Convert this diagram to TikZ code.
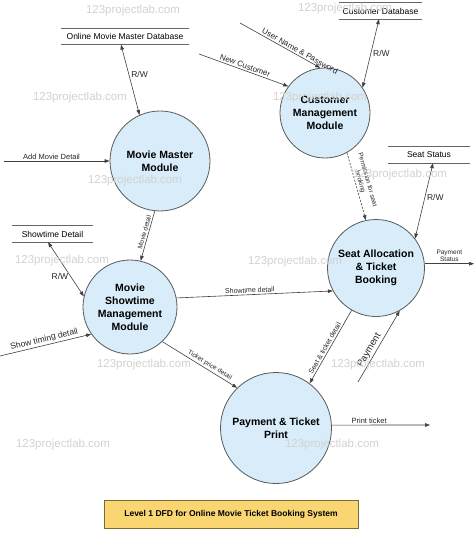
\documentclass[tikz,border=0pt]{standalone}
\usepackage{fontspec}
\setmainfont{Liberation Sans}
\usetikzlibrary{arrows.meta,calc}
\definecolor{procfill}{HTML}{D8EDF9}
\definecolor{procline}{HTML}{5A5A5A}
\definecolor{capfill}{HTML}{F9D672}
\definecolor{capline}{HTML}{7A6A3A}
\definecolor{wmark}{HTML}{D2D2D2}
\definecolor{flowline}{HTML}{404040}
\begin{document}
\begin{tikzpicture}[x=1pt,y=-1pt,
  proc/.style={circle, draw=procline, line width=0.8pt, fill=procfill, inner sep=0pt,
    align=center, font=\fontsize{10.5}{13}\selectfont\bfseries},
  tip/.tip={Triangle[length=5pt,width=3.6pt]},
  flow/.style={draw=flowline, line width=0.6pt, -tip},
  biflow/.style={draw=flowline, line width=0.6pt, tip-tip},
  lbl/.style={font=\fontsize{7.5}{8.5}\selectfont, text=black!85, inner sep=1.5pt},
  smalllbl/.style={lbl, font=\fontsize{6.5}{7.5}\selectfont},
  rw/.style={font=\fontsize{8.5}{10}\selectfont, text=black!85, inner sep=2pt},
  store/.style={inner sep=0pt, minimum height=16pt, font=\fontsize{8.5}{10}\selectfont},
  storeline/.style={draw=black!60, line width=0.7pt},
  caption/.style={draw=capline, line width=0.7pt, fill=capfill, minimum width=254pt,
    minimum height=28pt, font=\fontsize{8.5}{10}\selectfont\bfseries},
  wm/.style={text=wmark, font=\fontsize{11.5}{12}\selectfont}
]
\useasboundingbox (0,0) rectangle (474,534);
\fill[white] (0,0) rectangle (474,534);

% processes
\node[proc, minimum size=100pt] (mm) at (160,161) {Movie Master\\Module};
\node[proc, minimum size=90pt]  (cm) at (325,113) {Customer\\Management\\Module};
\node[proc, minimum size=94pt]  (st) at (130,307) {Movie\\Showtime\\Management\\Module};
\node[proc, minimum size=97pt]  (sa) at (376,268) {Seat Allocation\\\& Ticket\\Booking};
\node[proc, minimum size=111pt] (pt) at (276,428) {Payment \& Ticket\\Print};

% data stores
\node[store, minimum width=128pt] (omdb) at (125,36.5) {Online Movie Master Database};
\node[store, minimum width=83pt]  (cdb)  at (380.5,11) {Customer Database};
\node[store, minimum width=82pt]  (ssdb) at (429,155) {Seat Status};
\node[store, minimum width=81pt]  (sddb) at (52.5,234) {Showtime Detail};
\foreach \s in {omdb,cdb,ssdb,sddb}{
  \draw[storeline] (\s.north west) -- (\s.north east);
  \draw[storeline] (\s.south west) -- (\s.south east);
}

% caption
\node[caption] (cap) at (231,514) {Level 1 DFD for Online Movie Ticket Booking System};

% free ends
\coordinate (amdIn) at (4,161);
\coordinate (ncIn) at (199,54);
\coordinate (unIn) at (240,23);
\coordinate (stdIn) at (0,356);
\coordinate (psOut) at (474,264);
\coordinate (payIn) at (358,382);
\coordinate (ptOut) at (430,425);

% flows
\draw[biflow] ([xshift=-4pt]omdb.south) -- node[rw, right, pos=0.43]{R/W} (mm.114);
\draw[flow] (amdIn) -- node[lbl, above, pos=0.45]{Add Movie Detail} (mm.west);
\draw[flow] (ncIn) -- node[lbl, sloped, above, pos=0.5, font=\fontsize{8}{9}\selectfont]{New Customer} (cm.144);
\draw[flow] (unIn) -- node[lbl, sloped, above, pos=0.72, font=\fontsize{8}{9}\selectfont]{User Name \& Password} (cm.96);
\draw[biflow] ([xshift=-1.5pt]cdb.south) -- node[rw, right, pos=0.5]{R/W} (cm.34);
\draw[flow, dash pattern=on 2pt off 1.5pt] (cm.-61) -- node[smalllbl, sloped, above, pos=0.45, align=center]{Permission for seat\\booking} (sa.102);
\draw[biflow] ([xshift=4pt]ssdb.south) -- node[rw, right, pos=0.46]{R/W} (sa.37);
\draw[flow] (sa.5) -- node[smalllbl, above, align=center, pos=0.5]{Payment\\Status} (sa.5 -| psOut);
\draw[flow] (mm.-96) -- node[smalllbl, sloped, above, pos=0.45]{Movie detail} (st.77);
\draw[biflow] ([xshift=-4.5pt]sddb.south) -- node[rw, left, pos=0.63]{R/W} (st.167);
\draw[flow] (stdIn) -- node[lbl, sloped, above, pos=0.5, font=\fontsize{8.5}{9.5}\selectfont]{Show timing detail} (st.-145);
\draw[flow] (st.11) -- node[lbl, sloped, above, pos=0.47, font=\fontsize{7}{8}\selectfont]{Showtime detail} (sa.208);
\draw[flow] (st.-47) -- node[smalllbl, sloped, above, pos=0.6]{Ticket price detail} (pt.134);
\draw[flow] (sa.-120) -- node[lbl, sloped, above, pos=0.55, font=\fontsize{7}{8}\selectfont]{Seat \& ticket detail} (pt.53);
\draw[flow] (payIn) -- node[lbl, sloped, above, pos=0.4, font=\fontsize{9.5}{10}\selectfont]{Payment} (sa.-61);
\draw[flow] (pt.3) -- node[lbl, above, pos=0.38]{Print ticket} (ptOut);

% watermarks
\foreach \p in {(133,11),(345,9),(80,98),(320,98),(135,181),(400,175),(62,261),(295,262),(144,365),(378,365),(63,445),(332,445)}{
  \node[wm] at \p {123projectlab.com};
}
\end{tikzpicture}
\end{document}
